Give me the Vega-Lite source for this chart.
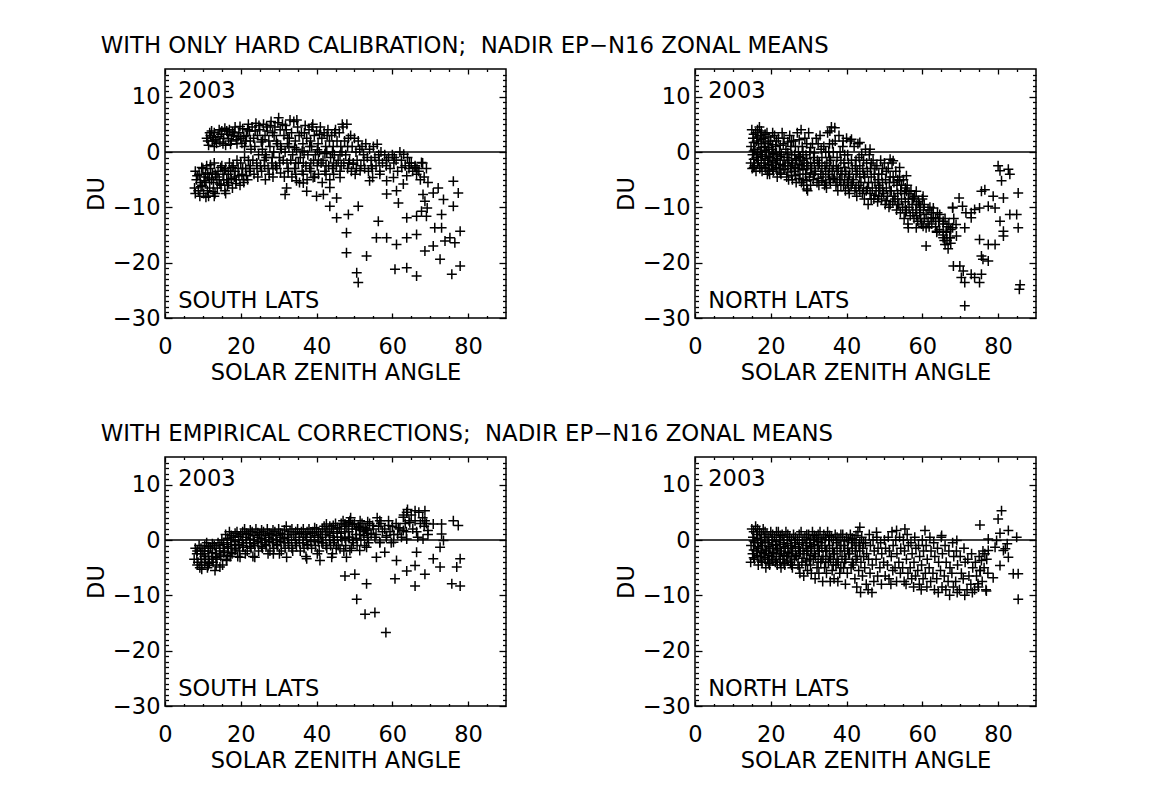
{
"$schema":"https://vega.github.io/schema/vega-lite/v6.json",
"background":"white",
"padding":{"left":84,"top":34,"right":5,"bottom":5},
"spacing":37,
"datasets":{
"p1":[{"x":11,"y":2.5},{"x":11.5,"y":1.2},{"x":12,"y":3},{"x":12.5,"y":2},{"x":13,"y":3.5},{"x":13,"y":1},{"x":14,"y":2.8},{"x":14.5,"y":1.8},{"x":15,"y":3.8},{"x":15.5,"y":2.5},{"x":16,"y":1.2},{"x":16.5,"y":3.2},{"x":17,"y":4},{"x":17.5,"y":2},{"x":18,"y":3},{"x":18.5,"y":4.5},{"x":19,"y":1.5},{"x":19.5,"y":3.5},{"x":20,"y":2.5},{"x":20.5,"y":4.2},{"x":21,"y":1},{"x":21.5,"y":3},{"x":22,"y":5},{"x":22.5,"y":2},
{"x":23,"y":4.5},{"x":23.4,"y":2.5},{"x":22.7,"y":0.5},{"x":23.2,"y":-1.5},{"x":22.5,"y":-3},
{"x":24,"y":5.2},{"x":24.4,"y":3},{"x":23.7,"y":1},{"x":24.2,"y":-2},{"x":23.5,"y":-4},
{"x":25,"y":4},{"x":25.4,"y":1.8},{"x":24.7,"y":-0.5},{"x":25.2,"y":-2.5},{"x":24.5,"y":-4.5},
{"x":26,"y":5},{"x":26.4,"y":3},{"x":25.7,"y":0.5},{"x":26.2,"y":-1.5},{"x":25.5,"y":-3.5},
{"x":27,"y":3.8},{"x":27.4,"y":2},{"x":26.7,"y":-1},{"x":27.2,"y":-3},{"x":26.5,"y":-5},
{"x":28,"y":5.5},{"x":28.4,"y":3.5},{"x":27.7,"y":1},{"x":28.2,"y":-2},{"x":27.5,"y":-4},
{"x":29,"y":4.5},{"x":29.4,"y":2},{"x":28.7,"y":0},{"x":29.2,"y":-2.5},{"x":28.5,"y":-4.5},
{"x":30,"y":6.2},{"x":30.4,"y":4},{"x":29.7,"y":1.5},{"x":30.2,"y":-1},{"x":29.5,"y":-3},
{"x":31,"y":5},{"x":31.4,"y":3},{"x":30.7,"y":0.5},{"x":31.2,"y":-1.5},{"x":30.5,"y":-3.8},
{"x":32,"y":4},{"x":32.4,"y":2.5},{"x":31.7,"y":0},{"x":32.2,"y":-2},{"x":31.5,"y":-4.5},
{"x":33,"y":5.8},{"x":33.4,"y":3.5},{"x":32.7,"y":1},{"x":33.2,"y":-1.5},{"x":32.5,"y":-3},
{"x":34,"y":5.5},{"x":34.4,"y":2},{"x":33.7,"y":-0.5},{"x":34.2,"y":-3},{"x":33.5,"y":-4.5},
{"x":35,"y":4.5},{"x":35.4,"y":3},{"x":34.7,"y":0.5},{"x":35.2,"y":-2},{"x":34.5,"y":-4},
{"x":36,"y":3.5},{"x":36.4,"y":1.5},{"x":35.7,"y":-1},{"x":36.2,"y":-3.5},{"x":35.5,"y":-5.5},
{"x":37,"y":4.8},{"x":37.4,"y":2.5},{"x":36.7,"y":0},{"x":37.2,"y":-2.5},{"x":36.5,"y":-4},
{"x":38,"y":4},{"x":38.4,"y":2},{"x":37.7,"y":-0.5},{"x":38.2,"y":-3},{"x":37.5,"y":-5},
{"x":39,"y":5},{"x":39.4,"y":3},{"x":38.7,"y":1},{"x":39.2,"y":-1.5},{"x":38.5,"y":-3.5},
{"x":40,"y":3.8},{"x":40.4,"y":1.5},{"x":39.7,"y":-0.5},{"x":40.2,"y":-2.5},{"x":39.5,"y":-4.5},
{"x":41,"y":4.5},{"x":41.4,"y":2.5},{"x":40.7,"y":0},{"x":41.2,"y":-2},{"x":40.5,"y":-4},
{"x":42,"y":3.5},{"x":42.4,"y":1},{"x":41.7,"y":-1.5},{"x":42.2,"y":-3.5},{"x":41.5,"y":-5.5},
{"x":43,"y":4},{"x":43.4,"y":2},{"x":42.7,"y":0},{"x":43.2,"y":-2.5},{"x":42.5,"y":-4},
{"x":44,"y":3},{"x":44.4,"y":1},{"x":43.7,"y":-1},{"x":44.2,"y":-3},{"x":43.5,"y":-5},
{"x":45,"y":4},{"x":45.4,"y":2},{"x":44.7,"y":-0.5},{"x":45.2,"y":-2.5},{"x":44.5,"y":-4},
{"x":46,"y":3.5},{"x":46.4,"y":1},{"x":45.7,"y":-1.5},{"x":46.2,"y":-3.5},
{"x":47,"y":4.5},{"x":47.4,"y":2},{"x":46.7,"y":0},{"x":47.2,"y":-2},
{"x":48,"y":5},{"x":48.4,"y":2.5},{"x":47.7,"y":-0.5},{"x":48.2,"y":-3},
{"x":49,"y":3},{"x":49.4,"y":1},{"x":48.7,"y":-1.5},{"x":49.2,"y":-3.5},
{"x":50,"y":2.5},{"x":50.4,"y":0},{"x":49.7,"y":-2},{"x":50.2,"y":-4},
{"x":51,"y":2},{"x":51.4,"y":0.5},{"x":50.7,"y":-1.5},
{"x":52,"y":1},{"x":52.4,"y":-0.5},{"x":51.7,"y":-2.5},
{"x":53,"y":1.5},{"x":53.4,"y":-1},{"x":52.7,"y":-3},
{"x":54,"y":0.5},{"x":54.4,"y":-1.5},{"x":53.7,"y":-3.5},
{"x":55,"y":1},{"x":55.4,"y":-1},{"x":54.7,"y":-3},
{"x":56,"y":1.4},{"x":56.4,"y":-0.5},{"x":55.7,"y":-2.5},
{"x":57,"y":0},{"x":57.4,"y":-2},{"x":56.7,"y":-3.5},
{"x":58,"y":-0.5},{"x":58.4,"y":-2.5},{"x":59,"y":-1},{"x":59.4,"y":-3},{"x":60,"y":-0.5},{"x":60.4,"y":-2},{"x":61,"y":-1.5},{"x":61.4,"y":-3.5},{"x":62,"y":0},{"x":62.4,"y":-1.5},{"x":63,"y":-0.4},{"x":63.4,"y":-2.5},{"x":64,"y":-1},{"x":64.4,"y":-3},{"x":65,"y":-2},{"x":65.4,"y":-3.5},{"x":66,"y":-2.5},{"x":66.4,"y":-4},{"x":67,"y":-3.5},{"x":67.4,"y":-5},{"x":68,"y":-2},{"x":68.4,"y":-4.5},{"x":69,"y":-3},{"x":69.4,"y":-5.5},
{"x":8,"y":-3.5},{"x":8.3,"y":-5},{"x":7.8,"y":-6.5},
{"x":9,"y":-4},{"x":9.3,"y":-5.5},{"x":8.8,"y":-7},{"x":9.2,"y":-8},
{"x":10,"y":-3},{"x":10.3,"y":-4.5},{"x":9.8,"y":-6},{"x":10.2,"y":-7.5},
{"x":11,"y":-2.5},{"x":11.3,"y":-4},{"x":10.8,"y":-5.5},{"x":11.2,"y":-7},{"x":11.5,"y":-8},
{"x":12,"y":-3},{"x":12.3,"y":-5},{"x":11.8,"y":-6.5},
{"x":13,"y":-2},{"x":13.3,"y":-4},{"x":12.8,"y":-5.5},{"x":13.2,"y":-7.5},
{"x":14,"y":-3.5},{"x":14.3,"y":-5},{"x":13.8,"y":-6.5},
{"x":15,"y":-2.5},{"x":15.3,"y":-4},{"x":14.8,"y":-6},
{"x":16,"y":-3},{"x":16.3,"y":-5},{"x":15.8,"y":-7},
{"x":17,"y":-2},{"x":17.3,"y":-3.5},{"x":16.8,"y":-5.5},
{"x":18,"y":-2.5},{"x":18.3,"y":-4.5},{"x":17.8,"y":-6.5},
{"x":19,"y":-1.5},{"x":19.3,"y":-3},{"x":18.8,"y":-5},
{"x":20,"y":-2},{"x":20.3,"y":-4},{"x":19.8,"y":-6},
{"x":21,"y":-1},{"x":21.3,"y":-3},{"x":20.8,"y":-5.5},
{"x":22,"y":-1.5},{"x":22.3,"y":-3.5},{"x":21.8,"y":-5},
{"x":45.3,"y":-11.9},{"x":48.4,"y":-11.3},{"x":47.9,"y":-14.6},{"x":47.9,"y":-18.2},{"x":50.6,"y":-21.8},{"x":51,"y":-23.6},{"x":51,"y":-9.8},{"x":53.2,"y":-18.8},{"x":56.3,"y":-12.5},{"x":55.8,"y":-15.5},{"x":58.5,"y":-15.5},{"x":61.1,"y":-16.7},{"x":60.7,"y":-21.2},{"x":63.8,"y":-20.9},{"x":66.4,"y":-22.4},{"x":63.8,"y":-15.5},{"x":66.4,"y":-14.9},{"x":63.8,"y":-11.9},{"x":66.4,"y":-11.6},{"x":69,"y":-11.6},{"x":68.6,"y":-17.9},{"x":70.8,"y":-17},{"x":72.6,"y":-19.4},{"x":75.7,"y":-22.1},{"x":77.9,"y":-20.6},{"x":77.9,"y":-14.3},{"x":73.9,"y":-16.1},{"x":75.2,"y":-15.5},{"x":76.5,"y":-16.4},{"x":73,"y":-13.7},{"x":71.2,"y":-13.7},{"x":73,"y":-11.3},{"x":73.5,"y":-8.6},{"x":76.1,"y":-9.8},{"x":76.1,"y":-5.3},{"x":77.4,"y":-7.4},{"x":72.1,"y":-6.5},{"x":70.8,"y":-7.4},{"x":68.1,"y":-7.7},{"x":68.6,"y":-8.9},{"x":69.2,"y":-10.1},{"x":67.7,"y":-10.7},{"x":67.7,"y":-1.9},{"x":66,"y":-2.8},{"x":63.8,"y":-4.3},{"x":62.9,"y":-5.8},{"x":61.1,"y":-7},{"x":61.6,"y":-9.2},{"x":58.5,"y":-7.6},{"x":58.5,"y":-5.2},{"x":60.3,"y":-4.6},{"x":56.7,"y":-4},{"x":54.8,"y":-4.6},{"x":54,"y":-5.2},{"x":51.5,"y":-3.4},{"x":49.7,"y":-2.2},{"x":46.2,"y":-4.6},{"x":43.5,"y":-6.4},{"x":43.5,"y":-9.8},{"x":45.3,"y":-8.3},{"x":41.8,"y":-7.7},{"x":40,"y":-8},{"x":37.4,"y":-7.1},{"x":36.5,"y":-5.6},{"x":32.1,"y":-6.5},{"x":31.7,"y":-7.7},{"x":34.7,"y":-5.2},{"x":39.1,"y":-4.6},
{"x":11.8,"y":3.5},{"x":12.8,"y":2.6},{"x":13.6,"y":1.6},{"x":14.8,"y":3.2},{"x":15.8,"y":4.3},{"x":16.8,"y":2.4},{"x":17.8,"y":3.6},{"x":18.8,"y":2.2},{"x":19.8,"y":4.6},{"x":20.8,"y":2.8},{"x":21.8,"y":4},{"x":11.3,"y":2},{"x":12.3,"y":3.8},{"x":13.3,"y":2.2},{"x":14.3,"y":4},{"x":15.3,"y":1.5},{"x":16.3,"y":3.8},{"x":17.3,"y":1.4},{"x":18.3,"y":3.5},{"x":19.3,"y":2.8},{"x":20.3,"y":1.6},{"x":21.3,"y":2},{"x":22.3,"y":3.8},{"x":23.8,"y":3.8},{"x":24.8,"y":4.8},{"x":25.8,"y":2.2},{"x":26.8,"y":4.5},{"x":27.8,"y":4.8},{"x":28.8,"y":3},{"x":29.8,"y":5.3},{"x":31.8,"y":4.8},{"x":32.8,"y":2.5},{"x":34.8,"y":5.8},{"x":36.8,"y":3.5},{"x":38.8,"y":4.5},{"x":40.8,"y":3.2},{"x":42.8,"y":3},{"x":44.8,"y":3.5},{"x":46.8,"y":5},{"x":30.5,"y":1},{"x":32.3,"y":1.5},{"x":34.2,"y":0.8},{"x":36.2,"y":0.2},{"x":38.2,"y":1},{"x":40.2,"y":0.4},{"x":42.2,"y":-0.3},{"x":44.2,"y":0},{"x":46.2,"y":-0.5},{"x":48.2,"y":1},{"x":26.5,"y":-0.5},{"x":28.3,"y":-1},{"x":24.3,"y":-3},{"x":26.3,"y":-2.5},{"x":28.5,"y":-3},{"x":30.3,"y":-2},{"x":32.5,"y":-3.5},{"x":34.5,"y":-2},{"x":36.5,"y":-2},{"x":38.5,"y":-2},{"x":40.5,"y":-1.5},{"x":42.5,"y":-2.5},{"x":44.5,"y":-2},{"x":46.5,"y":-2.5},{"x":48.5,"y":-2},{"x":50.5,"y":-3},{"x":52.5,"y":-1.5},{"x":54.5,"y":-2.5},{"x":56.5,"y":-1.5},{"x":58.5,"y":-1.5},{"x":60.5,"y":-1},{"x":62.5,"y":-2.8},{"x":64.5,"y":-2},{"x":66.5,"y":-3},
{"x":8.5,"y":-4.3},{"x":9.5,"y":-6.3},{"x":10.5,"y":-5.2},{"x":10.7,"y":-3.8},{"x":11.7,"y":-4.7},{"x":12.5,"y":-3.8},{"x":12.7,"y":-7.2},{"x":13.7,"y":-4.5},{"x":14.5,"y":-5.8},{"x":14.7,"y":-2.8},{"x":15.5,"y":-5},{"x":15.7,"y":-3.3},{"x":16.5,"y":-6},{"x":16.7,"y":-4},{"x":17.5,"y":-4.8},{"x":17.7,"y":-2.8},{"x":18.5,"y":-3.5},{"x":18.7,"y":-5.7},{"x":19.5,"y":-4.3},{"x":20.5,"y":-3},{"x":20.7,"y":-5},{"x":21.5,"y":-4.3},{"x":22.5,"y":-2.5},{"x":8,"y":-7.5},{"x":10.8,"y":-8.2},{"x":13,"y":-8},{"x":16,"y":-7.5},{"x":9.7,"y":-2.8},{"x":12,"y":-2.3}],
"p2":[{"x":15,"y":4},{"x":15.3,"y":2.5},{"x":14.8,"y":1},{"x":15.2,"y":-0.5},{"x":14.7,"y":-2},{"x":15.1,"y":-3},
{"x":16,"y":3.5},{"x":16.3,"y":2},{"x":15.8,"y":0.5},{"x":16.2,"y":-1},{"x":15.7,"y":-2.5},{"x":16.1,"y":-3.5},
{"x":17,"y":4.5},{"x":17.3,"y":3},{"x":16.8,"y":1.5},{"x":17.2,"y":0},{"x":16.7,"y":-1.5},{"x":17.1,"y":-3},
{"x":18,"y":2.5},{"x":18.3,"y":1},{"x":17.8,"y":-0.5},{"x":18.2,"y":-2},{"x":17.7,"y":-3.5},
{"x":19,"y":3.5},{"x":19.3,"y":1.5},{"x":18.8,"y":0},{"x":19.2,"y":-1.5},{"x":18.7,"y":-3},{"x":19.1,"y":-4},
{"x":20,"y":2},{"x":20.3,"y":0.5},{"x":19.8,"y":-1},{"x":20.2,"y":-2.5},{"x":19.7,"y":-4},
{"x":21,"y":3},{"x":21.3,"y":1},{"x":20.8,"y":-0.5},{"x":21.2,"y":-2},{"x":20.7,"y":-3.5},
{"x":22,"y":2.5},{"x":22.3,"y":0},{"x":21.8,"y":-1.5},{"x":22.2,"y":-3},{"x":21.7,"y":-4.5},
{"x":23,"y":3.5},{"x":23.3,"y":1.5},{"x":22.8,"y":-0.5},{"x":23.2,"y":-2.5},{"x":22.7,"y":-4},
{"x":24,"y":0.5},{"x":24.3,"y":-1},{"x":23.8,"y":-2.5},{"x":24.2,"y":-4.5},
{"x":25,"y":3},{"x":25.3,"y":1},{"x":24.8,"y":-1.5},{"x":25.2,"y":-3},{"x":24.7,"y":-5},
{"x":26,"y":2},{"x":26.3,"y":-0.5},{"x":25.8,"y":-2},{"x":26.2,"y":-3.5},{"x":25.7,"y":-5},
{"x":27,"y":3.5},{"x":27.3,"y":0},{"x":26.8,"y":-1.5},{"x":27.2,"y":-3},{"x":26.7,"y":-5.5},
{"x":28,"y":4},{"x":28.3,"y":1},{"x":27.8,"y":-1},{"x":28.2,"y":-2.5},{"x":27.7,"y":-4},{"x":28.1,"y":-5.5},
{"x":29,"y":2.5},{"x":29.3,"y":-0.5},{"x":28.8,"y":-2},{"x":29.2,"y":-4},{"x":28.7,"y":-6},
{"x":30,"y":3.5},{"x":30.3,"y":0},{"x":29.8,"y":-2.5},{"x":30.2,"y":-4.5},{"x":29.7,"y":-7},
{"x":31,"y":1.5},{"x":31.3,"y":-1},{"x":30.8,"y":-3},{"x":31.2,"y":-5},
{"x":32,"y":2.5},{"x":32.3,"y":-1.5},{"x":31.8,"y":-3.5},{"x":32.2,"y":-5.5},
{"x":33,"y":3},{"x":33.3,"y":0.5},{"x":32.8,"y":-2},{"x":33.2,"y":-4},{"x":32.7,"y":-6},
{"x":34,"y":1},{"x":34.3,"y":-2.5},{"x":33.8,"y":-4.5},{"x":34.2,"y":-6},
{"x":35,"y":3.5},{"x":35.3,"y":0},{"x":34.8,"y":-2},{"x":35.2,"y":-4},{"x":34.7,"y":-6.5},
{"x":36,"y":4.5},{"x":36.3,"y":1.5},{"x":35.8,"y":-1.5},{"x":36.2,"y":-3.5},{"x":35.7,"y":-5.5},
{"x":37,"y":2},{"x":37.3,"y":-2.5},{"x":36.8,"y":-4.5},{"x":37.2,"y":-6},
{"x":38,"y":3},{"x":38.3,"y":0},{"x":37.8,"y":-3},{"x":38.2,"y":-5},{"x":37.7,"y":-7},
{"x":39,"y":1},{"x":39.3,"y":-2},{"x":38.8,"y":-4},{"x":39.2,"y":-6},
{"x":40,"y":2.5},{"x":40.3,"y":-0.5},{"x":39.8,"y":-3.5},{"x":40.2,"y":-5.5},{"x":39.7,"y":-7},
{"x":41,"y":2},{"x":41.3,"y":-1.5},{"x":40.8,"y":-4},{"x":41.2,"y":-6},{"x":40.7,"y":-7.5},
{"x":42,"y":1},{"x":42.3,"y":-2.5},{"x":41.8,"y":-5},{"x":42.2,"y":-7},
{"x":43,"y":1.5},{"x":43.3,"y":-1},{"x":42.8,"y":-3.5},{"x":43.2,"y":-6},{"x":42.7,"y":-8},
{"x":44,"y":-0.5},{"x":44.3,"y":-3},{"x":43.8,"y":-5.5},{"x":44.2,"y":-7.5},
{"x":45,"y":0.5},{"x":45.3,"y":-2},{"x":44.8,"y":-4.5},{"x":45.2,"y":-7},{"x":44.7,"y":-8.5},
{"x":46,"y":-0.5},{"x":46.3,"y":-3},{"x":45.8,"y":-5.5},{"x":46.2,"y":-7.5},{"x":45.7,"y":-9.5},
{"x":47,"y":-1.5},{"x":47.3,"y":-4},{"x":46.8,"y":-6.5},{"x":47.2,"y":-8.5},
{"x":48,"y":-2.5},{"x":48.3,"y":-5},{"x":47.8,"y":-7},{"x":48.2,"y":-9},
{"x":49,"y":-1.5},{"x":49.3,"y":-4},{"x":48.8,"y":-6.5},{"x":49.2,"y":-8.5},
{"x":50,"y":-2},{"x":50.3,"y":-5},{"x":49.8,"y":-7.5},{"x":50.2,"y":-9.5},
{"x":51,"y":-3},{"x":51.3,"y":-5.5},{"x":50.8,"y":-8},{"x":51.2,"y":-10},
{"x":52,"y":-2},{"x":52.3,"y":-4.5},{"x":51.8,"y":-7},{"x":52.2,"y":-9},
{"x":53,"y":-3.5},{"x":53.3,"y":-6},{"x":52.8,"y":-8.5},{"x":53.2,"y":-10.5},
{"x":54,"y":-4.5},{"x":54.3,"y":-7},{"x":53.8,"y":-9.5},{"x":54.2,"y":-11},
{"x":55,"y":-5},{"x":55.3,"y":-7.5},{"x":54.8,"y":-10},{"x":55.2,"y":-12},
{"x":56,"y":-6},{"x":56.3,"y":-8.5},{"x":55.8,"y":-10.5},{"x":56.2,"y":-13},
{"x":57,"y":-7},{"x":57.3,"y":-9.5},{"x":56.8,"y":-11.5},
{"x":58,"y":-8},{"x":58.3,"y":-10.5},{"x":57.8,"y":-12},
{"x":59,"y":-9},{"x":59.3,"y":-11},{"x":58.8,"y":-12.5},
{"x":60,"y":-8.5},{"x":60.3,"y":-10.5},{"x":59.8,"y":-13},
{"x":62,"y":-10},{"x":62.3,"y":-12},{"x":61.8,"y":-13.5},
{"x":64,"y":-11},{"x":64.3,"y":-12.5},{"x":63.8,"y":-14.5},
{"x":66,"y":-12},{"x":66.3,"y":-14.5},{"x":65.8,"y":-16},
{"x":67,"y":-13},{"x":67.3,"y":-15.5},{"x":66.8,"y":-17.5},
{"x":68,"y":-10},{"x":68.3,"y":-12},
{"x":61,"y":-11.3},{"x":62.9,"y":-11.9},{"x":64.6,"y":-11.3},{"x":65.5,"y":-12.5},{"x":66.4,"y":-14.3},{"x":65.5,"y":-15.5},{"x":67.3,"y":-15.5},{"x":66,"y":-16.7},{"x":69,"y":-15.2},{"x":61,"y":-13.7},{"x":60.2,"y":-13.4},{"x":58.4,"y":-13.7},{"x":56.3,"y":-13.7},{"x":61,"y":-17},{"x":63.8,"y":-14.3},{"x":62.9,"y":-10.1},{"x":59.3,"y":-9.5},{"x":57.6,"y":-8.3},{"x":55.8,"y":-7.1},{"x":58.4,"y":-7.1},{"x":60.2,"y":-8},{"x":54,"y":-5.2},{"x":54,"y":-2.8},{"x":52.3,"y":-1.6},{"x":55.8,"y":-4.3},
{"x":35.6,"y":3.8},{"x":36.9,"y":4.4},{"x":39.1,"y":2},{"x":41.3,"y":2.3},{"x":43.5,"y":1.7},{"x":46.2,"y":0.5},{"x":51.5,"y":-1.3},{"x":29.5,"y":-6.7},
{"x":68.2,"y":-20.6},{"x":69.9,"y":-20.6},{"x":70.8,"y":-21.5},{"x":70.3,"y":-22.7},{"x":71.2,"y":-23.6},{"x":71.2,"y":-27.8},{"x":72.9,"y":-22.1},{"x":73.8,"y":-22.7},{"x":75.1,"y":-23.6},{"x":75.6,"y":-22.1},{"x":76,"y":-19.4},{"x":77.4,"y":-19.7},{"x":75.6,"y":-18.8},{"x":75.1,"y":-15.8},{"x":77.4,"y":-16.7},{"x":79.2,"y":-16.7},{"x":81.4,"y":-15.2},{"x":81.4,"y":-14.3},{"x":80.5,"y":-12.5},{"x":83.1,"y":-11.3},{"x":84.9,"y":-11.3},{"x":85.3,"y":-13.7},{"x":85.3,"y":-7.4},{"x":80,"y":-2.5},{"x":80.5,"y":-3.4},{"x":80.9,"y":-5.2},{"x":82.7,"y":-3.1},{"x":83.1,"y":-4},{"x":81.4,"y":-8.3},{"x":78.7,"y":-8},{"x":79.2,"y":-10.1},{"x":77.4,"y":-9.8},{"x":75.6,"y":-7.1},{"x":76.5,"y":-6.8},{"x":75.1,"y":-10.1},{"x":73.8,"y":-10.4},{"x":72.9,"y":-11},{"x":71.5,"y":-11},{"x":70.6,"y":-9.8},{"x":69.7,"y":-8.3},{"x":68,"y":-10.1},{"x":68.9,"y":-13.1},{"x":68,"y":-13.7},{"x":71.2,"y":-13.7},{"x":72.9,"y":-11.9},{"x":85.8,"y":-24},{"x":85.6,"y":-24.8},
{"x":15.5,"y":3.2},{"x":15.5,"y":1.7},{"x":15.5,"y":0.2},{"x":15.5,"y":-1.3},{"x":15.5,"y":-2.8},{"x":16.5,"y":4},{"x":16.5,"y":2.7},{"x":16.5,"y":-0.2},{"x":16.5,"y":-2},{"x":17.5,"y":3.8},{"x":17.5,"y":2.2},{"x":17.5,"y":0.8},{"x":17.5,"y":-0.8},{"x":17.5,"y":-2.5},{"x":18.5,"y":3.2},{"x":18.5,"y":1.8},{"x":18.5,"y":0.3},{"x":18.5,"y":-1.2},{"x":18.5,"y":-2.8},{"x":19.5,"y":2.7},{"x":19.5,"y":0.8},{"x":19.5,"y":-0.8},{"x":19.5,"y":-2.2},{"x":19.5,"y":-3.5},{"x":20.5,"y":3.5},{"x":20.5,"y":1.3},{"x":20.5,"y":-0.3},{"x":20.5,"y":-1.8},{"x":20.5,"y":-3.2},{"x":21.5,"y":2},{"x":21.5,"y":-0.2},{"x":21.5,"y":-1.2},{"x":21.5,"y":-2.8},{"x":22.5,"y":1.2},{"x":22.5,"y":-0.8},{"x":22.5,"y":-2.2},{"x":22.5,"y":-3.8},{"x":23.5,"y":2.5},{"x":23.5,"y":-1.5},{"x":23.5,"y":-3.2},{"x":24.5,"y":1.8},{"x":24.5,"y":-0.2},{"x":24.5,"y":-2},{"x":24.5,"y":-3.6},{"x":25.5,"y":2},{"x":25.5,"y":-0.5},{"x":25.5,"y":-2.5},{"x":25.5,"y":-4.2},{"x":26.5,"y":1},{"x":26.5,"y":-1.2},{"x":26.5,"y":-2.8},{"x":26.5,"y":-4.3},{"x":27.5,"y":2.2},{"x":27.5,"y":-0.8},{"x":27.5,"y":-2.2},{"x":27.5,"y":-4.8},{"x":28.5,"y":0},{"x":28.5,"y":-1.5},{"x":28.5,"y":-3.2},{"x":28.5,"y":-5},{"x":29.5,"y":1.5},{"x":29.5,"y":-1.2},{"x":29.5,"y":-3},{"x":29.5,"y":-5.2},{"x":30.5,"y":0.8},{"x":30.5,"y":-2},{"x":30.5,"y":-3.8},{"x":30.5,"y":-6},{"x":31.5,"y":-0.2},{"x":31.5,"y":-2},{"x":31.5,"y":-4},{"x":32.5,"y":1.5},{"x":32.5,"y":-2.5},{"x":32.5,"y":-4.8},{"x":33.5,"y":-1},{"x":33.5,"y":-3},{"x":33.5,"y":-5.2},{"x":34.5,"y":0},{"x":34.5,"y":-3.5},{"x":34.5,"y":-5.5},{"x":35.5,"y":1.5},{"x":35.5,"y":-1},{"x":35.5,"y":-3},{"x":35.5,"y":-5},{"x":36.5,"y":0},{"x":36.5,"y":-2.5},{"x":36.5,"y":-4.8},{"x":37.5,"y":-1},{"x":37.5,"y":-3.5},{"x":37.5,"y":-5.5},{"x":38.5,"y":-1.5},{"x":38.5,"y":-4},{"x":38.5,"y":-6},{"x":39.5,"y":-0.5},{"x":39.5,"y":-2.8},{"x":39.5,"y":-5},{"x":40.5,"y":-2},{"x":40.5,"y":-4.5},{"x":40.5,"y":-6.5},{"x":41.5,"y":-3},{"x":41.5,"y":-5.5},{"x":42.5,"y":-1.5},{"x":42.5,"y":-4},{"x":42.5,"y":-6.5},{"x":43.5,"y":-2.5},{"x":43.5,"y":-4.5},{"x":43.5,"y":-7},{"x":44.5,"y":-1.5},{"x":44.5,"y":-4},{"x":44.5,"y":-6.5},{"x":45.5,"y":-3.5},{"x":45.5,"y":-6.5},{"x":46.5,"y":-2},{"x":46.5,"y":-4.5},{"x":46.5,"y":-8.5},{"x":47.5,"y":-3},{"x":47.5,"y":-5.5},{"x":47.5,"y":-7.8},{"x":48.5,"y":-4},{"x":48.5,"y":-6},{"x":48.5,"y":-8},{"x":49.5,"y":-3},{"x":49.5,"y":-5.5},{"x":49.5,"y":-7},{"x":50.5,"y":-3.5},{"x":50.5,"y":-6.5},{"x":50.5,"y":-8.8},{"x":51.5,"y":-4.5},{"x":51.5,"y":-7},{"x":51.5,"y":-9.5},{"x":52.5,"y":-5.5},{"x":52.5,"y":-8},{"x":53.5,"y":-5},{"x":53.5,"y":-7.5},{"x":53.5,"y":-9.5},{"x":54.5,"y":-6},{"x":54.5,"y":-8.5},{"x":55.5,"y":-6.5},{"x":55.5,"y":-9},{"x":55.5,"y":-11},{"x":56.5,"y":-7.5},{"x":56.5,"y":-10},{"x":57.5,"y":-8.5},{"x":57.5,"y":-11},{"x":58.5,"y":-9.5},{"x":58.5,"y":-11.5},{"x":59.5,"y":-10},{"x":59.5,"y":-12},{"x":60.5,"y":-9.5},{"x":60.5,"y":-12},{"x":61.5,"y":-10.5},{"x":61.5,"y":-12.5},{"x":62.5,"y":-11},{"x":62.5,"y":-13},{"x":63.5,"y":-12},{"x":63.5,"y":-13.5},{"x":64.5,"y":-12},{"x":64.5,"y":-14},{"x":65.5,"y":-13},{"x":65.5,"y":-15},{"x":66.5,"y":-13.5},{"x":66.5,"y":-16},{"x":67.5,"y":-14},{"x":67.5,"y":-16.5}],
"p3":[{"x":8,"y":-1.5},{"x":8.4,"y":-2.5},{"x":7.7,"y":-3.5},
{"x":9,"y":-1},{"x":9.4,"y":-2.5},{"x":8.7,"y":-4},{"x":9.2,"y":-5},
{"x":10,"y":-2},{"x":10.4,"y":-3},{"x":9.7,"y":-4.5},
{"x":11,"y":-0.5},{"x":11.4,"y":-2},{"x":10.7,"y":-3.5},{"x":11.2,"y":-5},
{"x":12,"y":-1.5},{"x":12.4,"y":-3},{"x":11.7,"y":-4},
{"x":13,"y":-1},{"x":13.4,"y":-2.5},{"x":12.7,"y":-4},{"x":13.2,"y":-5.5},
{"x":14,"y":-0.5},{"x":14.4,"y":-2},{"x":13.7,"y":-3.5},
{"x":15,"y":0},{"x":15.4,"y":-1.5},{"x":14.7,"y":-3},{"x":15.2,"y":-4.5},
{"x":16,"y":1},{"x":16.4,"y":-0.5},{"x":15.7,"y":-2},{"x":16.2,"y":-3.5},
{"x":17,"y":1.5},{"x":17.4,"y":0},{"x":16.7,"y":-1.5},{"x":17.2,"y":-3},
{"x":18,"y":0.5},{"x":18.4,"y":-1},{"x":17.7,"y":-2.5},
{"x":19,"y":1.5},{"x":19.4,"y":0},{"x":18.7,"y":-1.5},{"x":19.2,"y":-3},
{"x":20,"y":1},{"x":20.4,"y":-0.5},{"x":19.7,"y":-2},
{"x":21,"y":2},{"x":21.4,"y":0.5},{"x":20.7,"y":-1},{"x":21.2,"y":-2.5},
{"x":22,"y":1},{"x":22.4,"y":-0.5},{"x":21.7,"y":-2},
{"x":23,"y":1.5},{"x":23.4,"y":0},{"x":22.7,"y":-1.5},{"x":23.2,"y":-3},
{"x":24,"y":2},{"x":24.4,"y":0.5},{"x":23.7,"y":-1},
{"x":25,"y":1},{"x":25.4,"y":-0.5},{"x":24.7,"y":-2},
{"x":26,"y":1.5},{"x":26.4,"y":0},{"x":25.7,"y":-1.5},
{"x":27,"y":2},{"x":27.4,"y":0.5},{"x":26.7,"y":-1},{"x":27.2,"y":-2.5},
{"x":28,"y":1},{"x":28.4,"y":-0.5},{"x":27.7,"y":-2},
{"x":29,"y":1.5},{"x":29.4,"y":0},{"x":28.7,"y":-1.5},
{"x":30,"y":2},{"x":30.4,"y":0.5},{"x":29.7,"y":-1},{"x":30.2,"y":-2.5},
{"x":31,"y":1},{"x":31.4,"y":-0.5},{"x":30.7,"y":-2},
{"x":32,"y":2.5},{"x":32.4,"y":0.5},{"x":31.7,"y":-1.5},
{"x":33,"y":1.5},{"x":33.4,"y":0},{"x":32.7,"y":-1},
{"x":34,"y":1},{"x":34.4,"y":-0.5},{"x":33.7,"y":-2},
{"x":35,"y":2},{"x":35.4,"y":0.5},{"x":34.7,"y":-1},
{"x":36,"y":1.5},{"x":36.4,"y":-0.5},{"x":35.7,"y":-2},
{"x":37,"y":1},{"x":37.4,"y":0},{"x":36.7,"y":-1.5},{"x":37.2,"y":-3},
{"x":38,"y":2},{"x":38.4,"y":0.5},{"x":37.7,"y":-1},
{"x":39,"y":1.5},{"x":39.4,"y":0},{"x":38.7,"y":-1.5},
{"x":40,"y":2},{"x":40.4,"y":0.5},{"x":39.7,"y":-1},{"x":40.2,"y":-2.5},
{"x":41,"y":1},{"x":41.4,"y":-0.5},{"x":40.7,"y":-2},
{"x":42,"y":2.5},{"x":42.4,"y":1},{"x":41.7,"y":-0.5},
{"x":43,"y":1.5},{"x":43.4,"y":0},{"x":42.7,"y":-1.5},
{"x":44,"y":2},{"x":44.4,"y":0.5},{"x":43.7,"y":-1},{"x":44.2,"y":-2.5},
{"x":45,"y":3},{"x":45.4,"y":1.5},{"x":44.7,"y":0},{"x":45.2,"y":-1.5},
{"x":46,"y":2},{"x":46.4,"y":0.5},{"x":45.7,"y":-1},
{"x":47,"y":3.5},{"x":47.4,"y":1.5},{"x":46.7,"y":0},{"x":47.2,"y":-2},
{"x":48,"y":2.5},{"x":48.4,"y":0.5},{"x":47.7,"y":-1},
{"x":49,"y":4},{"x":49.4,"y":2},{"x":48.7,"y":0.5},{"x":49.2,"y":-1.5},
{"x":50,"y":3},{"x":50.4,"y":1},{"x":49.7,"y":-0.5},
{"x":51,"y":2.5},{"x":51.4,"y":1},{"x":50.7,"y":-1},
{"x":52,"y":3},{"x":52.4,"y":1.5},{"x":51.7,"y":0},
{"x":53,"y":2},{"x":53.4,"y":0.5},{"x":52.7,"y":-1},
{"x":54,"y":3},{"x":54.4,"y":1},{"x":53.7,"y":-0.5},
{"x":55,"y":2},{"x":55.4,"y":0.5},
{"x":56,"y":4},{"x":56.4,"y":2.5},{"x":55.7,"y":1},
{"x":57,"y":3},{"x":57.4,"y":1.5},{"x":56.7,"y":-0.5},
{"x":58,"y":2},{"x":58.4,"y":0.5},{"x":59,"y":3.5},{"x":59.4,"y":1.5},
{"x":60,"y":2.5},{"x":60.4,"y":1},{"x":59.7,"y":-0.5},
{"x":61,"y":3},{"x":61.4,"y":1},{"x":62,"y":2},{"x":62.4,"y":0.5},{"x":63,"y":4.5},{"x":63.4,"y":3},
{"x":64,"y":5.5},{"x":64.4,"y":3.5},{"x":63.7,"y":1.5},{"x":65,"y":4.5},{"x":65.4,"y":2},{"x":66,"y":3.5},{"x":66.4,"y":1.5},
{"x":67,"y":5},{"x":67.4,"y":3},{"x":66.7,"y":0.5},{"x":68,"y":4},{"x":68.4,"y":2.5},{"x":69,"y":3},{"x":69.4,"y":1},
{"x":47.5,"y":-6.5},{"x":50.1,"y":-6.2},{"x":50.6,"y":-10.7},{"x":53.2,"y":-7.9},{"x":52.8,"y":-13.4},{"x":55.4,"y":-13.1},{"x":58.3,"y":-16.7},{"x":55.8,"y":-3.1},{"x":58,"y":-2.2},{"x":61.1,"y":-3.7},{"x":60.7,"y":-7},{"x":63.8,"y":-5.6},{"x":66,"y":-4.6},{"x":66,"y":-8.3},{"x":68.6,"y":-6.2},{"x":66.4,"y":-2.2},{"x":70.8,"y":-3.4},{"x":72.6,"y":-4.9},{"x":75.7,"y":-7.9},{"x":77.9,"y":-8.3},{"x":77,"y":-4.9},{"x":77.9,"y":-3.4},{"x":72.6,"y":-1.3},{"x":73.5,"y":-0.1},{"x":73,"y":1.1},{"x":76.1,"y":3.5},{"x":77.4,"y":2.6},{"x":73,"y":2.9},{"x":70.8,"y":2.9},{"x":68.6,"y":3.5},{"x":68.6,"y":5.3},{"x":66,"y":5.3},{"x":63.8,"y":5},{"x":62.9,"y":4.1},{"x":62.9,"y":1.7},{"x":63.8,"y":0.2},{"x":68.1,"y":0.2},{"x":69.4,"y":1.7},{"x":64.6,"y":3.1},{"x":61.6,"y":2.2},{"x":59,"y":2.6},{"x":56.7,"y":3.5},{"x":54.8,"y":2.6},{"x":53.2,"y":1.7},{"x":51.4,"y":2.3},{"x":48.8,"y":3.5},{"x":47.5,"y":2.9},{"x":44.4,"y":2.6},{"x":42.6,"y":2.9},{"x":58.5,"y":0.8},{"x":60.3,"y":-0.4},{"x":56.7,"y":-0.4},{"x":53.2,"y":-1.3},{"x":51.4,"y":-1.9},{"x":48.8,"y":-1.9},{"x":46.2,"y":-1.6},{"x":47.9,"y":-3.1},{"x":44,"y":-3.1},{"x":40.9,"y":-3.7},{"x":37.4,"y":-3.4},{"x":32.1,"y":-3.1},{"x":28.6,"y":-2.5},{"x":23.7,"y":-3.1},{"x":19.8,"y":-3.1},{"x":16.3,"y":-3.7},{"x":14.5,"y":-4.9},{"x":9.7,"y":-5.3},{"x":11.4,"y":-4.6},
{"x":8.5,"y":-2},{"x":8.5,"y":-4.5},{"x":9.5,"y":-1.5},{"x":9.5,"y":-3.5},{"x":10.5,"y":-1},{"x":10.5,"y":-2.5},{"x":10.5,"y":-4},{"x":11.5,"y":-1.2},{"x":11.5,"y":-3},{"x":11.5,"y":-4.3},{"x":12.5,"y":-0.7},{"x":12.5,"y":-2.3},{"x":12.5,"y":-3.5},{"x":13.5,"y":-1.5},{"x":13.5,"y":-3.2},{"x":13.5,"y":-4.5},{"x":14.5,"y":-1},{"x":14.5,"y":-2.7},{"x":15.5,"y":-0.8},{"x":15.5,"y":-2.3},{"x":16.5,"y":0.3},{"x":16.5,"y":-1.2},{"x":16.5,"y":-2.8},{"x":17.5,"y":0.8},{"x":17.5,"y":-0.8},{"x":17.5,"y":-2.2},{"x":18.5,"y":1.2},{"x":18.5,"y":-0.3},{"x":18.5,"y":-1.8},{"x":19.5,"y":0.7},{"x":19.5,"y":-0.8},{"x":20.5,"y":1.5},{"x":20.5,"y":0},{"x":20.5,"y":-1.3},{"x":21.5,"y":1.2},{"x":21.5,"y":-0.5},{"x":22.5,"y":1.8},{"x":22.5,"y":0.2},{"x":22.5,"y":-1.2},{"x":23.5,"y":0.8},{"x":23.5,"y":-0.7},{"x":24.5,"y":1.3},{"x":24.5,"y":-0.3},{"x":25.5,"y":1.8},{"x":25.5,"y":0.3},{"x":25.5,"y":-1.2},{"x":26.5,"y":0.8},{"x":26.5,"y":-0.8},{"x":27.5,"y":1.2},{"x":27.5,"y":-0.3},{"x":28.5,"y":1.8},{"x":28.5,"y":0.2},{"x":29.5,"y":0.8},{"x":29.5,"y":-0.8},{"x":30.5,"y":1.2},{"x":30.5,"y":-0.3},{"x":31.5,"y":1.8},{"x":31.5,"y":0.3},{"x":32.5,"y":1},{"x":32.5,"y":-0.5},{"x":33.5,"y":2},{"x":33.5,"y":-1.5},{"x":34.5,"y":1.5},{"x":34.5,"y":0},{"x":35.5,"y":1.2},{"x":35.5,"y":-0.5},{"x":36.5,"y":2},{"x":36.5,"y":0.5},{"x":37.5,"y":1.5},{"x":37.5,"y":-0.8},{"x":38.5,"y":1.2},{"x":38.5,"y":-0.3},{"x":39.5,"y":2.2},{"x":39.5,"y":0.8},{"x":40.5,"y":1.5},{"x":40.5,"y":-0.3},{"x":41.5,"y":2},{"x":41.5,"y":0.5},{"x":42.5,"y":1.5},{"x":42.5,"y":-1},{"x":43.5,"y":2.5},{"x":43.5,"y":0.8},{"x":44.5,"y":1.2},{"x":44.5,"y":-0.5},{"x":45.5,"y":2.2},{"x":45.5,"y":0.5},{"x":46.5,"y":3},{"x":46.5,"y":1.2},{"x":47.5,"y":2.5},{"x":47.5,"y":0.3},{"x":48.5,"y":3.2},{"x":48.5,"y":1.5},{"x":49.5,"y":2.8},{"x":49.5,"y":0},{"x":50.5,"y":2},{"x":50.5,"y":0.3},{"x":51.5,"y":3.5},{"x":51.5,"y":1.8},{"x":52.5,"y":2.2},{"x":52.5,"y":0.8},{"x":53.5,"y":3.3},{"x":53.5,"y":1.2}],
"p4":[{"x":15,"y":2},{"x":15.3,"y":0.5},{"x":14.8,"y":-1},{"x":15.2,"y":-2.5},{"x":14.7,"y":-4},
{"x":16,"y":2.5},{"x":16.3,"y":1},{"x":15.8,"y":-0.5},{"x":16.2,"y":-2},{"x":15.7,"y":-3.5},
{"x":17,"y":1.5},{"x":17.3,"y":0},{"x":16.8,"y":-1.5},{"x":17.2,"y":-3},{"x":16.7,"y":-4.5},
{"x":18,"y":2},{"x":18.3,"y":0.5},{"x":17.8,"y":-1},{"x":18.2,"y":-2.5},{"x":17.7,"y":-4},
{"x":19,"y":1},{"x":19.3,"y":-0.5},{"x":18.8,"y":-2},{"x":19.2,"y":-3.5},{"x":18.7,"y":-5},
{"x":20,"y":1.5},{"x":20.3,"y":0},{"x":19.8,"y":-1.5},{"x":20.2,"y":-3},{"x":19.7,"y":-4.5},
{"x":21,"y":0.5},{"x":21.3,"y":-1},{"x":20.8,"y":-2.5},{"x":21.2,"y":-4},
{"x":22,"y":1.5},{"x":22.3,"y":0},{"x":21.8,"y":-1.5},{"x":22.2,"y":-3},{"x":21.7,"y":-4.5},
{"x":23,"y":1},{"x":23.3,"y":-0.5},{"x":22.8,"y":-2},{"x":23.2,"y":-3.5},{"x":22.7,"y":-5},
{"x":24,"y":1.5},{"x":24.3,"y":0},{"x":23.8,"y":-1.5},{"x":24.2,"y":-3},{"x":23.7,"y":-4.5},
{"x":25,"y":0.5},{"x":25.3,"y":-1},{"x":24.8,"y":-2.5},{"x":25.2,"y":-4},
{"x":26,"y":1},{"x":26.3,"y":-0.5},{"x":25.8,"y":-2},{"x":26.2,"y":-3.5},{"x":25.7,"y":-5},
{"x":27,"y":0},{"x":27.3,"y":-1.5},{"x":26.8,"y":-3},{"x":27.2,"y":-4.5},
{"x":28,"y":1.5},{"x":28.3,"y":-0.5},{"x":27.8,"y":-2},{"x":28.2,"y":-4},{"x":27.7,"y":-6},
{"x":29,"y":0.5},{"x":29.3,"y":-1},{"x":28.8,"y":-2.5},{"x":29.2,"y":-4.5},{"x":28.7,"y":-6.5},
{"x":30,"y":1},{"x":30.3,"y":-0.5},{"x":29.8,"y":-2},{"x":30.2,"y":-3.5},{"x":29.7,"y":-5.5},
{"x":31,"y":1.5},{"x":31.3,"y":0},{"x":30.8,"y":-1.5},{"x":31.2,"y":-3.5},{"x":30.7,"y":-6},
{"x":32,"y":0.5},{"x":32.3,"y":-1},{"x":31.8,"y":-3},{"x":32.2,"y":-5},{"x":31.7,"y":-7},
{"x":33,"y":1.5},{"x":33.3,"y":-0.5},{"x":32.8,"y":-2},{"x":33.2,"y":-4},{"x":32.7,"y":-6},
{"x":34,"y":1},{"x":34.3,"y":-1},{"x":33.8,"y":-3},{"x":34.2,"y":-5},{"x":33.7,"y":-7.5},
{"x":35,"y":1.5},{"x":35.3,"y":0},{"x":34.8,"y":-2},{"x":35.2,"y":-4},{"x":34.7,"y":-6},
{"x":36,"y":0.5},{"x":36.3,"y":-1.5},{"x":35.8,"y":-3.5},{"x":36.2,"y":-5.5},{"x":35.7,"y":-7.5},
{"x":37,"y":1},{"x":37.3,"y":-0.5},{"x":36.8,"y":-2.5},{"x":37.2,"y":-4.5},{"x":36.7,"y":-7},
{"x":38,"y":0},{"x":38.3,"y":-2},{"x":37.8,"y":-4},{"x":38.2,"y":-6},{"x":37.7,"y":-7.5},
{"x":39,"y":1},{"x":39.3,"y":-1},{"x":38.8,"y":-3},{"x":39.2,"y":-5},
{"x":40,"y":0.5},{"x":40.3,"y":-1.5},{"x":39.8,"y":-3.5},{"x":40.2,"y":-6},{"x":39.7,"y":-8},
{"x":41,"y":1},{"x":41.3,"y":-0.5},{"x":40.8,"y":-2.5},{"x":41.2,"y":-5},
{"x":42,"y":0},{"x":42.3,"y":-2},{"x":41.8,"y":-4.5},{"x":42.2,"y":-7},
{"x":43,"y":1.5},{"x":43.3,"y":-1},{"x":42.8,"y":-3},{"x":43.2,"y":-5.5},{"x":42.7,"y":-8.5},
{"x":44,"y":0.5},{"x":44.3,"y":-1.5},{"x":43.8,"y":-4},{"x":44.2,"y":-6.5},{"x":43.7,"y":-9.5},
{"x":45,"y":-0.5},{"x":45.3,"y":-2.5},{"x":44.8,"y":-5},{"x":45.2,"y":-8},
{"x":46,"y":1},{"x":46.3,"y":-1},{"x":45.8,"y":-3.5},{"x":46.2,"y":-6},{"x":45.7,"y":-9},
{"x":47,"y":0},{"x":47.3,"y":-2},{"x":46.8,"y":-4.5},{"x":47.2,"y":-7.5},{"x":46.7,"y":-9.5},
{"x":48,"y":0.5},{"x":48.3,"y":-1.5},{"x":47.8,"y":-3.5},{"x":48.2,"y":-6.5},
{"x":49,"y":-0.5},{"x":49.3,"y":-2.5},{"x":48.8,"y":-5},{"x":49.2,"y":-8},
{"x":50,"y":0},{"x":50.3,"y":-1.5},{"x":49.8,"y":-4},{"x":50.2,"y":-6.5},
{"x":51,"y":0.5},{"x":51.3,"y":-2},{"x":50.8,"y":-4.5},{"x":51.2,"y":-7},
{"x":52,"y":1.5},{"x":52.3,"y":-1},{"x":51.8,"y":-3},{"x":52.2,"y":-5.5},{"x":51.7,"y":-8},
{"x":53,"y":0},{"x":53.3,"y":-2.5},{"x":52.8,"y":-5},{"x":53.2,"y":-7.5},
{"x":54,"y":0.5},{"x":54.3,"y":-1.5},{"x":53.8,"y":-4},{"x":54.2,"y":-6},
{"x":55,"y":0},{"x":55.3,"y":-2},{"x":54.8,"y":-5},{"x":55.2,"y":-7.5},
{"x":56,"y":1},{"x":56.3,"y":-1},{"x":55.8,"y":-3.5},{"x":56.2,"y":-6},{"x":55.7,"y":-8},
{"x":57,"y":-0.5},{"x":57.3,"y":-2.5},{"x":56.8,"y":-5},{"x":57.2,"y":-7},
{"x":58,"y":0.5},{"x":58.3,"y":-1.5},{"x":57.8,"y":-4},{"x":58.2,"y":-6.5},{"x":57.7,"y":-8.5},
{"x":59,"y":-1},{"x":59.3,"y":-3},{"x":58.8,"y":-5.5},{"x":59.2,"y":-8},
{"x":60,"y":0},{"x":60.3,"y":-2},{"x":59.8,"y":-4.5},{"x":60.2,"y":-7},{"x":59.7,"y":-9},
{"x":61,"y":-1},{"x":61.3,"y":-3.5},{"x":60.8,"y":-6},{"x":61.2,"y":-8.5},
{"x":62,"y":0.5},{"x":62.3,"y":-2},{"x":61.8,"y":-5},{"x":62.2,"y":-7.5},
{"x":63,"y":-0.5},{"x":63.3,"y":-3},{"x":62.8,"y":-6},{"x":63.2,"y":-9},
{"x":64,"y":-1.5},{"x":64.3,"y":-4},{"x":63.8,"y":-7},{"x":64.2,"y":-9.5},
{"x":65,"y":0.5},{"x":65.3,"y":-2.5},{"x":64.8,"y":-5.5},{"x":65.2,"y":-8.5},
{"x":66,"y":-1},{"x":66.3,"y":-4},{"x":65.8,"y":-6.5},{"x":66.2,"y":-9},
{"x":67,"y":-2},{"x":67.3,"y":-5},{"x":66.8,"y":-7.5},{"x":67.2,"y":-10},
{"x":68,"y":-0.5},{"x":68.3,"y":-3},{"x":67.8,"y":-6},{"x":68.2,"y":-8.5},
{"x":69,"y":-2},{"x":69.3,"y":-4.5},{"x":68.8,"y":-7.5},{"x":69.2,"y":-9.5},
{"x":70,"y":-3},{"x":70.3,"y":-6},{"x":69.8,"y":-9},
{"x":71,"y":-1.5},{"x":71.3,"y":-4},{"x":70.8,"y":-7},{"x":71.2,"y":-10},
{"x":72,"y":-3.5},{"x":72.3,"y":-6.5},{"x":71.8,"y":-9},
{"x":73,"y":-2.5},{"x":73.3,"y":-5},{"x":72.8,"y":-8},{"x":73.2,"y":-9.5},
{"x":74,"y":-4},{"x":74.3,"y":-6.5},{"x":73.8,"y":-9},
{"x":75,"y":-3},{"x":75.3,"y":-5.5},{"x":74.8,"y":-8.5},
{"x":76,"y":-2},{"x":76.3,"y":-5},{"x":75.8,"y":-7.5},
{"x":77,"y":-3.5},{"x":77.3,"y":-6},{"x":76.8,"y":-9},
{"x":75.2,"y":2.7},{"x":80,"y":3.8},{"x":80.9,"y":5.3},{"x":80.5,"y":1.2},{"x":82.7,"y":1.7},{"x":84.9,"y":0.5},{"x":84,"y":-6.1},{"x":85.3,"y":-6.1},{"x":85.3,"y":-10.7},{"x":81.4,"y":-1.9},{"x":82.7,"y":-3.1},{"x":80.5,"y":-4.6},{"x":78.7,"y":-6.8},{"x":77.4,"y":0.2},{"x":75.6,"y":-3.7},{"x":76.5,"y":-2.5},{"x":75.2,"y":-5.5},{"x":74.7,"y":-7.9},{"x":76.9,"y":-9.2},{"x":77.4,"y":-1.9},{"x":79.2,"y":-1.3},{"x":81.9,"y":-1.6},{"x":82.4,"y":-0.7},{"x":79.6,"y":-0.1},
{"x":43.5,"y":2.3},{"x":47.9,"y":1.4},{"x":55.4,"y":2},{"x":60.7,"y":1.7},{"x":65.1,"y":0.8},{"x":69.1,"y":-0.1},{"x":53.2,"y":1.7},
{"x":15.5,"y":1.5},{"x":15.5,"y":-0.2},{"x":15.5,"y":-1.8},{"x":15.5,"y":-3.2},{"x":16.5,"y":2},{"x":16.5,"y":0.3},{"x":16.5,"y":-1.2},{"x":16.5,"y":-2.8},{"x":17.5,"y":1},{"x":17.5,"y":-0.5},{"x":17.5,"y":-2.2},{"x":17.5,"y":-3.8},{"x":18.5,"y":1.5},{"x":18.5,"y":-0.2},{"x":18.5,"y":-1.8},{"x":18.5,"y":-3.2},{"x":19.5,"y":0.5},{"x":19.5,"y":-1.2},{"x":19.5,"y":-2.8},{"x":19.5,"y":-4.2},{"x":20.5,"y":1},{"x":20.5,"y":-0.8},{"x":20.5,"y":-2.2},{"x":20.5,"y":-3.8},{"x":21.5,"y":1.5},{"x":21.5,"y":-0.3},{"x":21.5,"y":-1.8},{"x":21.5,"y":-3.5},{"x":22.5,"y":0.8},{"x":22.5,"y":-0.8},{"x":22.5,"y":-2.5},{"x":22.5,"y":-4},{"x":23.5,"y":0.5},{"x":23.5,"y":-1.2},{"x":23.5,"y":-2.8},{"x":23.5,"y":-4.2},{"x":24.5,"y":1},{"x":24.5,"y":-0.7},{"x":24.5,"y":-2.2},{"x":24.5,"y":-3.8},{"x":25.5,"y":0},{"x":25.5,"y":-1.5},{"x":25.5,"y":-3},{"x":25.5,"y":-4.5},{"x":26.5,"y":0.5},{"x":26.5,"y":-1.2},{"x":26.5,"y":-2.8},{"x":27.5,"y":1},{"x":27.5,"y":-0.8},{"x":27.5,"y":-2.5},{"x":27.5,"y":-5},{"x":28.5,"y":0},{"x":28.5,"y":-1.5},{"x":28.5,"y":-3.3},{"x":29.5,"y":1},{"x":29.5,"y":-0.5},{"x":29.5,"y":-2},{"x":29.5,"y":-3.8},{"x":30.5,"y":0.2},{"x":30.5,"y":-1.2},{"x":30.5,"y":-2.8},{"x":30.5,"y":-4.5},{"x":31.5,"y":0.8},{"x":31.5,"y":-0.8},{"x":31.5,"y":-2.5},{"x":32.5,"y":1},{"x":32.5,"y":-0.3},{"x":32.5,"y":-2},{"x":32.5,"y":-4},{"x":33.5,"y":0.2},{"x":33.5,"y":-1.5},{"x":33.5,"y":-3.5},{"x":34.5,"y":0.5},{"x":34.5,"y":-2},{"x":34.5,"y":-4},{"x":35.5,"y":0.8},{"x":35.5,"y":-1},{"x":35.5,"y":-3},{"x":36.5,"y":0},{"x":36.5,"y":-2.5},{"x":36.5,"y":-4.5},{"x":37.5,"y":0.5},{"x":37.5,"y":-1.5},{"x":37.5,"y":-3.5},{"x":38.5,"y":1},{"x":38.5,"y":-1},{"x":38.5,"y":-5},{"x":39.5,"y":-0.2},{"x":39.5,"y":-2},{"x":39.5,"y":-4},{"x":40.5,"y":0},{"x":40.5,"y":-2.5},{"x":41.5,"y":0.3},{"x":41.5,"y":-1.5},{"x":41.5,"y":-4},{"x":42.5,"y":0.8},{"x":42.5,"y":-1},{"x":42.5,"y":-3.5},{"x":43.5,"y":-0.5},{"x":43.5,"y":-2},{"x":44.5,"y":-0.5},{"x":44.5,"y":-3}]
},
"vconcat":[
{"title":{"text":"WITH ONLY HARD CALIBRATION;\u00a0 NADIR EP\u2212N16 ZONAL MEANS","offset":10,"dx":16},
 "spacing":106,
 "hconcat":[
 {"width":341,"height":249,"data":{"name":"p1"},"resolve":{"axis":{"x":"independent","y":"independent"}},
  "layer":[
   {"data":{"values":[{}]},"mark":{"type":"rule","color":"black","strokeWidth":1.5},
    "encoding":{"x":{"datum":0,"type":"quantitative","scale":{"domain":[0,90],"nice":false,"zero":false},"axis":{"orient":"bottom","values":[5,10,15,25,30,35,45,50,55,65,70,75,85],"labels":false,"tickSize":-2.5,"title":null}},
     "x2":{"datum":90},
     "y":{"datum":0,"type":"quantitative","scale":{"domain":[-30,15],"nice":false,"zero":false},"axis":{"orient":"left","values":[-29,-28,-27,-26,-25,-24,-23,-22,-21,-19,-18,-17,-16,-15,-14,-13,-12,-11,-9,-8,-7,-6,-5,-4,-3,-2,-1,1,2,3,4,5,6,7,8,9,11,12,13,14],"labels":false,"tickSize":-3.5,"title":null}}}},
   {"mark":{"type":"point","shape":"M-1,0L1,0M0,-1L0,1","filled":false,"stroke":"black","strokeWidth":1.5,"size":100,"opacity":1},
    "encoding":{"x":{"field":"x","type":"quantitative","scale":{"domain":[0,90],"nice":false,"zero":false},"axis":{"orient":"bottom","values":[0,20,40,60,80],"tickSize":-5,"labelPadding":22,"title":"SOLAR ZENITH ANGLE","titlePadding":4}},
     "y":{"field":"y","type":"quantitative","scale":{"domain":[-30,15],"nice":false,"zero":false},"axis":{"orient":"left","values":[-30,-20,-10,0,10],"tickSize":-7,"labelPadding":12,"title":"DU","titlePadding":4}}}},
   {"data":{"values":[{}]},"mark":{"type":"text","text":"2003","align":"left","baseline":"alphabetic","font":"DejaVu Sans","fontSize":22.5,"color":"black"},
    "encoding":{"x":{"datum":3.5,"type":"quantitative","scale":{"domain":[0,90],"nice":false,"zero":false},"axis":{"orient":"top","values":[0,20,40,60,80],"labels":false,"tickSize":-5,"title":null}},
     "y":{"datum":9.8,"type":"quantitative","scale":{"domain":[-30,15],"nice":false,"zero":false},"axis":{"orient":"right","values":[-30,-20,-10,0,10],"labels":false,"tickSize":-7,"title":null}}}},
   {"data":{"values":[{}]},"mark":{"type":"text","text":"SOUTH LATS","align":"left","baseline":"alphabetic","font":"DejaVu Sans","fontSize":22.5,"color":"black"},
    "encoding":{"x":{"datum":3.5,"type":"quantitative","scale":{"domain":[0,90],"nice":false,"zero":false},"axis":{"orient":"top","values":[5,10,15,25,30,35,45,50,55,65,70,75,85],"labels":false,"tickSize":-2.5,"title":null}},
     "y":{"datum":-28.2,"type":"quantitative","scale":{"domain":[-30,15],"nice":false,"zero":false},"axis":{"orient":"right","values":[-29,-28,-27,-26,-25,-24,-23,-22,-21,-19,-18,-17,-16,-15,-14,-13,-12,-11,-9,-8,-7,-6,-5,-4,-3,-2,-1,1,2,3,4,5,6,7,8,9,11,12,13,14],"labels":false,"tickSize":-3.5,"title":null}}}}
  ]},
 {"width":341,"height":249,"data":{"name":"p2"},"resolve":{"axis":{"x":"independent","y":"independent"}},
  "layer":[
   {"data":{"values":[{}]},"mark":{"type":"rule","color":"black","strokeWidth":1.5},
    "encoding":{"x":{"datum":0,"type":"quantitative","scale":{"domain":[0,90],"nice":false,"zero":false},"axis":{"orient":"bottom","values":[5,10,15,25,30,35,45,50,55,65,70,75,85],"labels":false,"tickSize":-2.5,"title":null}},
     "x2":{"datum":90},
     "y":{"datum":0,"type":"quantitative","scale":{"domain":[-30,15],"nice":false,"zero":false},"axis":{"orient":"left","values":[-29,-28,-27,-26,-25,-24,-23,-22,-21,-19,-18,-17,-16,-15,-14,-13,-12,-11,-9,-8,-7,-6,-5,-4,-3,-2,-1,1,2,3,4,5,6,7,8,9,11,12,13,14],"labels":false,"tickSize":-3.5,"title":null}}}},
   {"mark":{"type":"point","shape":"M-1,0L1,0M0,-1L0,1","filled":false,"stroke":"black","strokeWidth":1.5,"size":100,"opacity":1},
    "encoding":{"x":{"field":"x","type":"quantitative","scale":{"domain":[0,90],"nice":false,"zero":false},"axis":{"orient":"bottom","values":[0,20,40,60,80],"tickSize":-5,"labelPadding":22,"title":"SOLAR ZENITH ANGLE","titlePadding":4}},
     "y":{"field":"y","type":"quantitative","scale":{"domain":[-30,15],"nice":false,"zero":false},"axis":{"orient":"left","values":[-30,-20,-10,0,10],"tickSize":-7,"labelPadding":12,"title":"DU","titlePadding":4}}}},
   {"data":{"values":[{}]},"mark":{"type":"text","text":"2003","align":"left","baseline":"alphabetic","font":"DejaVu Sans","fontSize":22.5,"color":"black"},
    "encoding":{"x":{"datum":3.5,"type":"quantitative","scale":{"domain":[0,90],"nice":false,"zero":false},"axis":{"orient":"top","values":[0,20,40,60,80],"labels":false,"tickSize":-5,"title":null}},
     "y":{"datum":9.8,"type":"quantitative","scale":{"domain":[-30,15],"nice":false,"zero":false},"axis":{"orient":"right","values":[-30,-20,-10,0,10],"labels":false,"tickSize":-7,"title":null}}}},
   {"data":{"values":[{}]},"mark":{"type":"text","text":"NORTH LATS","align":"left","baseline":"alphabetic","font":"DejaVu Sans","fontSize":22.5,"color":"black"},
    "encoding":{"x":{"datum":3.5,"type":"quantitative","scale":{"domain":[0,90],"nice":false,"zero":false},"axis":{"orient":"top","values":[5,10,15,25,30,35,45,50,55,65,70,75,85],"labels":false,"tickSize":-2.5,"title":null}},
     "y":{"datum":-28.2,"type":"quantitative","scale":{"domain":[-30,15],"nice":false,"zero":false},"axis":{"orient":"right","values":[-29,-28,-27,-26,-25,-24,-23,-22,-21,-19,-18,-17,-16,-15,-14,-13,-12,-11,-9,-8,-7,-6,-5,-4,-3,-2,-1,1,2,3,4,5,6,7,8,9,11,12,13,14],"labels":false,"tickSize":-3.5,"title":null}}}}
  ]}
 ]},
{"title":{"text":"WITH EMPIRICAL CORRECTIONS;\u00a0 NADIR EP\u2212N16 ZONAL MEANS","offset":10,"dx":16},
 "spacing":106,
 "hconcat":[
 {"width":341,"height":249,"data":{"name":"p3"},"resolve":{"axis":{"x":"independent","y":"independent"}},
  "layer":[
   {"data":{"values":[{}]},"mark":{"type":"rule","color":"black","strokeWidth":1.5},
    "encoding":{"x":{"datum":0,"type":"quantitative","scale":{"domain":[0,90],"nice":false,"zero":false},"axis":{"orient":"bottom","values":[5,10,15,25,30,35,45,50,55,65,70,75,85],"labels":false,"tickSize":-2.5,"title":null}},
     "x2":{"datum":90},
     "y":{"datum":0,"type":"quantitative","scale":{"domain":[-30,15],"nice":false,"zero":false},"axis":{"orient":"left","values":[-29,-28,-27,-26,-25,-24,-23,-22,-21,-19,-18,-17,-16,-15,-14,-13,-12,-11,-9,-8,-7,-6,-5,-4,-3,-2,-1,1,2,3,4,5,6,7,8,9,11,12,13,14],"labels":false,"tickSize":-3.5,"title":null}}}},
   {"mark":{"type":"point","shape":"M-1,0L1,0M0,-1L0,1","filled":false,"stroke":"black","strokeWidth":1.5,"size":100,"opacity":1},
    "encoding":{"x":{"field":"x","type":"quantitative","scale":{"domain":[0,90],"nice":false,"zero":false},"axis":{"orient":"bottom","values":[0,20,40,60,80],"tickSize":-5,"labelPadding":22,"title":"SOLAR ZENITH ANGLE","titlePadding":4}},
     "y":{"field":"y","type":"quantitative","scale":{"domain":[-30,15],"nice":false,"zero":false},"axis":{"orient":"left","values":[-30,-20,-10,0,10],"tickSize":-7,"labelPadding":12,"title":"DU","titlePadding":4}}}},
   {"data":{"values":[{}]},"mark":{"type":"text","text":"2003","align":"left","baseline":"alphabetic","font":"DejaVu Sans","fontSize":22.5,"color":"black"},
    "encoding":{"x":{"datum":3.5,"type":"quantitative","scale":{"domain":[0,90],"nice":false,"zero":false},"axis":{"orient":"top","values":[0,20,40,60,80],"labels":false,"tickSize":-5,"title":null}},
     "y":{"datum":9.8,"type":"quantitative","scale":{"domain":[-30,15],"nice":false,"zero":false},"axis":{"orient":"right","values":[-30,-20,-10,0,10],"labels":false,"tickSize":-7,"title":null}}}},
   {"data":{"values":[{}]},"mark":{"type":"text","text":"SOUTH LATS","align":"left","baseline":"alphabetic","font":"DejaVu Sans","fontSize":22.5,"color":"black"},
    "encoding":{"x":{"datum":3.5,"type":"quantitative","scale":{"domain":[0,90],"nice":false,"zero":false},"axis":{"orient":"top","values":[5,10,15,25,30,35,45,50,55,65,70,75,85],"labels":false,"tickSize":-2.5,"title":null}},
     "y":{"datum":-28.2,"type":"quantitative","scale":{"domain":[-30,15],"nice":false,"zero":false},"axis":{"orient":"right","values":[-29,-28,-27,-26,-25,-24,-23,-22,-21,-19,-18,-17,-16,-15,-14,-13,-12,-11,-9,-8,-7,-6,-5,-4,-3,-2,-1,1,2,3,4,5,6,7,8,9,11,12,13,14],"labels":false,"tickSize":-3.5,"title":null}}}}
  ]},
 {"width":341,"height":249,"data":{"name":"p4"},"resolve":{"axis":{"x":"independent","y":"independent"}},
  "layer":[
   {"data":{"values":[{}]},"mark":{"type":"rule","color":"black","strokeWidth":1.5},
    "encoding":{"x":{"datum":0,"type":"quantitative","scale":{"domain":[0,90],"nice":false,"zero":false},"axis":{"orient":"bottom","values":[5,10,15,25,30,35,45,50,55,65,70,75,85],"labels":false,"tickSize":-2.5,"title":null}},
     "x2":{"datum":90},
     "y":{"datum":0,"type":"quantitative","scale":{"domain":[-30,15],"nice":false,"zero":false},"axis":{"orient":"left","values":[-29,-28,-27,-26,-25,-24,-23,-22,-21,-19,-18,-17,-16,-15,-14,-13,-12,-11,-9,-8,-7,-6,-5,-4,-3,-2,-1,1,2,3,4,5,6,7,8,9,11,12,13,14],"labels":false,"tickSize":-3.5,"title":null}}}},
   {"mark":{"type":"point","shape":"M-1,0L1,0M0,-1L0,1","filled":false,"stroke":"black","strokeWidth":1.5,"size":100,"opacity":1},
    "encoding":{"x":{"field":"x","type":"quantitative","scale":{"domain":[0,90],"nice":false,"zero":false},"axis":{"orient":"bottom","values":[0,20,40,60,80],"tickSize":-5,"labelPadding":22,"title":"SOLAR ZENITH ANGLE","titlePadding":4}},
     "y":{"field":"y","type":"quantitative","scale":{"domain":[-30,15],"nice":false,"zero":false},"axis":{"orient":"left","values":[-30,-20,-10,0,10],"tickSize":-7,"labelPadding":12,"title":"DU","titlePadding":4}}}},
   {"data":{"values":[{}]},"mark":{"type":"text","text":"2003","align":"left","baseline":"alphabetic","font":"DejaVu Sans","fontSize":22.5,"color":"black"},
    "encoding":{"x":{"datum":3.5,"type":"quantitative","scale":{"domain":[0,90],"nice":false,"zero":false},"axis":{"orient":"top","values":[0,20,40,60,80],"labels":false,"tickSize":-5,"title":null}},
     "y":{"datum":9.8,"type":"quantitative","scale":{"domain":[-30,15],"nice":false,"zero":false},"axis":{"orient":"right","values":[-30,-20,-10,0,10],"labels":false,"tickSize":-7,"title":null}}}},
   {"data":{"values":[{}]},"mark":{"type":"text","text":"NORTH LATS","align":"left","baseline":"alphabetic","font":"DejaVu Sans","fontSize":22.5,"color":"black"},
    "encoding":{"x":{"datum":3.5,"type":"quantitative","scale":{"domain":[0,90],"nice":false,"zero":false},"axis":{"orient":"top","values":[5,10,15,25,30,35,45,50,55,65,70,75,85],"labels":false,"tickSize":-2.5,"title":null}},
     "y":{"datum":-28.2,"type":"quantitative","scale":{"domain":[-30,15],"nice":false,"zero":false},"axis":{"orient":"right","values":[-29,-28,-27,-26,-25,-24,-23,-22,-21,-19,-18,-17,-16,-15,-14,-13,-12,-11,-9,-8,-7,-6,-5,-4,-3,-2,-1,1,2,3,4,5,6,7,8,9,11,12,13,14],"labels":false,"tickSize":-3.5,"title":null}}}}
  ]}
 ]}
],
"config":{
 "view":{"stroke":"black","strokeWidth":1.5},
 "axis":{"domain":false,"grid":false,"tickColor":"black","tickWidth":1.3,"labelColor":"black","labelFont":"DejaVu Sans","labelFontSize":22.5,"titleFont":"DejaVu Sans","titleFontSize":22.5,"titleFontWeight":"normal","titleColor":"black","labelFlush":false,"labelOverlap":false},
 "title":{"font":"DejaVu Sans","fontSize":22.8,"fontWeight":"normal","color":"black","anchor":"start"}
}
}
